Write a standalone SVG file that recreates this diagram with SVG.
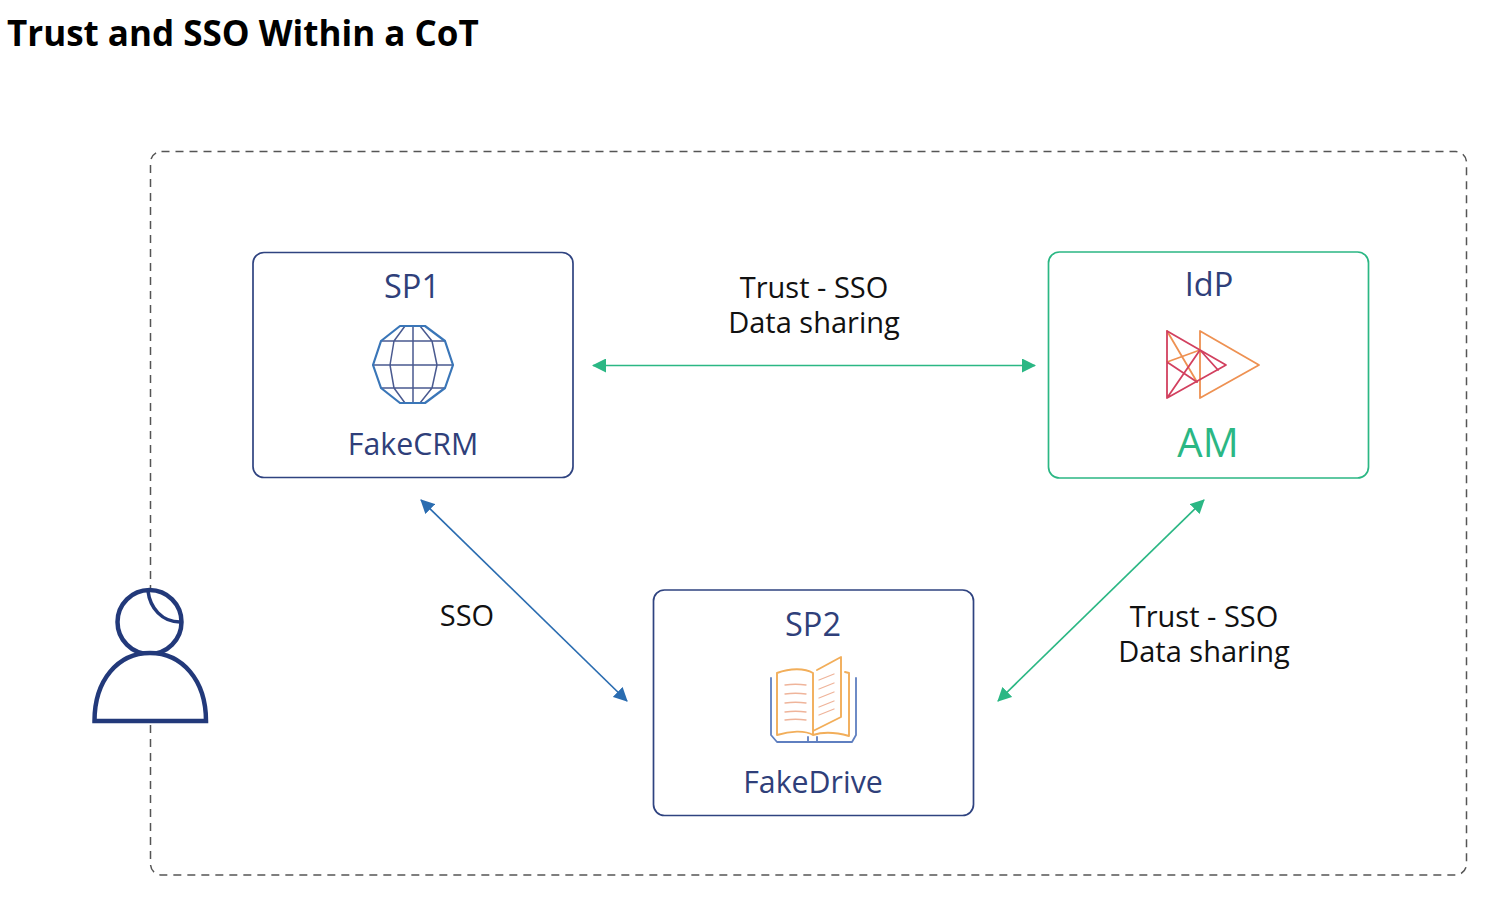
<svg xmlns="http://www.w3.org/2000/svg" width="1511" height="898" viewBox="0 0 1511 898">
<style>
text{font-family:"Open Sans","Noto Sans","Liberation Sans",sans-serif;text-anchor:middle}
.t{font-size:32.500px;fill:#2f3f7a}
.n{font-size:30.300px;fill:#2f3f7a}
.l{font-size:29px;fill:#111}
.box{fill:#fff;stroke:#2f4380;stroke-width:1.700}
.g{stroke:#2bb784;stroke-width:1.700;fill:none}
.i{fill:none;stroke-linejoin:round;stroke-linecap:round}
</style>
<defs>
<marker id="ag" viewBox="0 0 14 14" refX="13" refY="7" markerWidth="14" markerHeight="14" markerUnits="userSpaceOnUse" orient="auto-start-reverse"><path d="M0 0L14 7L0 14Z" fill="#2bb784"/></marker>
<marker id="ab" viewBox="0 0 14 14" refX="13" refY="7" markerWidth="14" markerHeight="14" markerUnits="userSpaceOnUse" orient="auto-start-reverse"><path d="M0 0L14 7L0 14Z" fill="#2a6cb0"/></marker>
</defs>
<rect width="1511" height="898" fill="#fff"/>
<text x="7" y="46" style="text-anchor:start;font-size:35px;font-weight:700;fill:#000">Trust and SSO Within a CoT</text>
<rect id="cot" x="150.500" y="151.500" width="1316" height="723.500" rx="11" fill="none" stroke="#555" stroke-width="1.500" stroke-dasharray="8 6"/>
<g id="connectors">
<line x1="593" y1="365.500" x2="1035" y2="365.500" class="g" marker-start="url(#ag)" marker-end="url(#ag)"/>
<line x1="1204" y1="500" x2="998" y2="701" class="g" marker-start="url(#ag)" marker-end="url(#ag)"/>
<line x1="421" y1="500" x2="627" y2="701" stroke="#2a6cb0" stroke-width="1.700" marker-start="url(#ab)" marker-end="url(#ab)"/>
</g>
<g id="sp1">
<rect class="box" x="253" y="252.500" width="320" height="225" rx="11"/>
<text class="t" x="412" y="298">SP1</text>
<g class="i">
<path d="M413 326V403M373 365H453M381 341H445M381 388H445M405 326L394 341L390 365L394 388L405 403M420 326L432 341L437 365L432 388L420 403" stroke="#4a5a90" stroke-width="1.500"/>
<path d="M400 326H425L445 341L453 365L445 388L425 403H400L381 388L373 365L381 341Z" stroke="#3a76b8" stroke-width="2.200"/>
</g>
<text class="n" x="413" y="455">FakeCRM</text>
</g>
<g id="idp">
<rect x="1048.500" y="252" width="320" height="226" rx="11" fill="#fff" stroke="#2bb784" stroke-width="1.700"/>
<text class="t" x="1209" y="296">IdP</text>
<g class="i" stroke-width="1.800">
<path d="M1200 331L1259 365L1200 398Z" stroke="#ee9152"/>
<path d="M1167 331L1197 382M1167 362L1200 350" stroke="#ee9152"/>
<path d="M1167 331V398L1226 365ZM1167 398L1200 350L1218 370M1167 362L1197 382" stroke="#d2405f"/>
</g>
<text x="1208" y="457" style="font-size:40px;fill:#2bb784">AM</text>
</g>
<g id="sp2">
<rect class="box" x="653.500" y="590" width="320" height="225.500" rx="11"/>
<text class="t" x="813" y="636">SP2</text>
<g class="i">
<path d="M771 678V735L777 742H852L856 735V678M808 742V737M817 742V737" stroke="#5f7fc0" stroke-width="1.800"/>
<path d="M777 735V673C790 668 805 668 813 673V735C805 730 790 731 777 735M817 670L841 657V717L813 731M845 672L849 673V736C835 732 822 732 813 735" stroke="#f2ae5a" stroke-width="1.900"/>
<path d="M785 685C792 684 799 684 806 685M785 694C792 693 799 693 806 694M785 703C792 702 799 702 806 703M785 712C792 711 799 711 806 712M785 720C792 719 799 719 806 720M819 680L834 674M819 689L834 683M819 698L834 692M819 707L834 701M819 715L834 709" stroke="#efb49a" stroke-width="1.300"/>
</g>
<text class="n" x="813" y="793">FakeDrive</text>
</g>
<text class="l" x="814" y="298">Trust - SSO<tspan x="814" dy="35">Data sharing</tspan></text>
<text class="l" x="467" y="626">SSO</text>
<text class="l" x="1204" y="627">Trust - SSO<tspan x="1204" dy="35">Data sharing</tspan></text>
<g id="user" fill="#fff" stroke="#22397a" stroke-width="4.500">
<circle cx="149.500" cy="622" r="32"/>
<path d="M148 591C150 608 162 622 180 622" fill="none" stroke-width="3.500"/>
<path d="M94.500 721C94.500 680 118 653 150 653C182 653 206 680 206 721Z"/>
</g>
</svg>
